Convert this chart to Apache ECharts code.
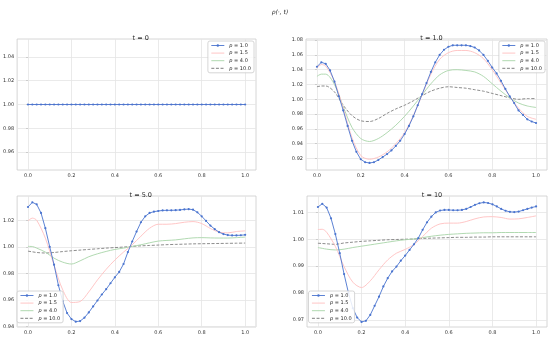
<!DOCTYPE html>
<html><head><meta charset="utf-8">
<script src="https://cdn.jsdelivr.net/npm/echarts@6/dist/echarts.min.js"></script>
<style>html,body{margin:0;padding:0;background:#fff}#c{width:550px;height:338px}</style>
</head><body><div id="c"></div><script>
// ---- data ----
const xFine = [0,0.02,0.04,0.06,0.08,0.10,0.12,0.14,0.16,0.18,0.20,0.22,0.24,0.26,0.28,0.30,0.32,0.34,0.36,0.38,0.40,0.42,0.44,0.46,0.48,0.50,0.52,0.54,0.56,0.58,0.60,0.62,0.64,0.66,0.68,0.70,0.72,0.74,0.76,0.78,0.80,0.82,0.84,0.86,0.88,0.90,0.92,0.94,0.96,0.98,1.00];
const xCoarse = [0,0.02,0.04,0.08,0.12,0.16,0.20,0.24,0.28,0.32,0.36,0.40,0.44,0.48,0.52,0.56,0.60,0.64,0.68,0.72,0.76,0.80,0.84,0.88,0.92,0.96,1.00];
const seriesNames = ['p = 1.0','p = 1.5','p = 4.0','p = 10.0'];
const panelTitles = ['t = 0','t = 1.0','t = 5.0','t = 10'];
const xTicks = [0,0.2,0.4,0.6,0.8,1.0];
const yTicks0 = [0.96,0.98,1.00,1.02,1.04];
const yTicks1 = [0.92,0.94,0.96,0.98,1.00,1.02,1.04,1.06,1.08];
const yTicks2 = [0.94,0.96,0.98,1.00,1.02];
const yTicks3 = [0.97,0.98,0.99,1.00,1.01];

// t = 0
const t0_p1 = [1,1,1,1,1,1,1,1,1,1,1,1,1,1,1,1,1,1,1,1,1,1,1,1,1,1,1,1,1,1,1,1,1,1,1,1,1,1,1,1,1,1,1,1,1,1,1,1,1,1,1];
const t0_p15 = [1,1,1,1,1,1,1,1,1,1,1,1,1,1,1,1,1,1,1,1,1,1,1,1,1,1,1];
const t0_p4 = [1,1,1,1,1,1,1,1,1,1,1,1,1,1,1,1,1,1,1,1,1,1,1,1,1,1,1];
const t0_p10 = [1,1,1,1,1,1,1,1,1,1,1,1,1,1,1,1,1,1,1,1,1,1,1,1,1,1,1];

// t = 1.0
const t1_p1 = [1.044,1.050,1.048,1.039,1.024,1.004,0.985,0.964,0.944,0.929,0.919,0.915,0.914,0.915,0.918,0.922,0.926,0.931,0.937,0.944,0.953,0.964,0.977,0.992,1.007,1.022,1.037,1.050,1.060,1.067,1.071,1.073,1.073,1.073,1.073,1.072,1.070,1.066,1.060,1.052,1.043,1.035,1.025,1.014,1.004,0.995,0.985,0.979,0.973,0.970,0.968];
const t1_p15 = [1.042,1.047,1.045,1.024,0.988,0.948,0.924,0.919,0.922,0.929,0.940,0.955,0.978,1.006,1.034,1.054,1.063,1.066,1.066,1.063,1.055,1.040,1.022,1.004,0.988,0.977,0.973];
const t1_p4 = [1.031,1.034,1.034,1.020,0.990,0.962,0.947,0.943,0.947,0.955,0.965,0.977,0.991,1.006,1.021,1.033,1.039,1.040,1.039,1.037,1.031,1.021,1.011,1.002,0.995,0.991,0.989];
const t1_p10 = [1.017,1.018,1.018,1.010,0.992,0.978,0.971,0.970,0.974,0.981,0.987,0.992,0.998,1.005,1.011,1.015,1.017,1.016,1.015,1.013,1.011,1.008,1.005,1.002,1.000,1.001,1.001];

// t = 5.0
const t5_p1 = [1.030,1.0335,1.032,1.0255,1.014,1.000,0.9865,0.971,0.959,0.950,0.9455,0.9435,0.944,0.9465,0.9505,0.955,0.9595,0.964,0.968,0.9725,0.977,0.981,0.987,0.996,1.004,1.0115,1.0185,1.023,1.0255,1.0265,1.027,1.0274,1.0275,1.0275,1.0276,1.0278,1.0282,1.0284,1.028,1.026,1.023,1.0195,1.016,1.0133,1.011,1.0096,1.0088,1.0086,1.0086,1.0087,1.009];
const t5_p15 = [1.0196,1.0216,1.020,1.0065,0.986,0.9675,0.958,0.9587,0.966,0.975,0.983,0.990,0.996,1.0015,1.008,1.014,1.017,1.017,1.0175,1.0185,1.019,1.0175,1.0138,1.011,1.0105,1.0115,1.012];
const t5_p4 = [1.0003,1.0002,0.999,0.996,0.9914,0.9884,0.987,0.9894,0.9925,0.9947,0.9965,0.998,0.999,1.0003,1.0015,1.003,1.0043,1.0048,1.0052,1.006,1.0067,1.0069,1.0067,1.0066,1.0066,1.0069,1.0073];
const t5_p10 = [0.9967,0.9962,0.9957,0.9953,0.9957,0.9964,0.997,0.9975,0.998,0.9985,0.999,0.9994,0.9998,1.0003,1.0007,1.001,1.0013,1.0016,1.0018,1.002,1.0022,1.0023,1.0024,1.0025,1.0026,1.0027,1.0028];

// t = 10
const t10_p1 = [1.0120,1.0132,1.0118,1.0078,1.0019,0.9948,0.9870,0.9800,0.9743,0.9708,0.9692,0.9696,0.9718,0.9752,0.9786,0.9824,0.9855,0.9880,0.9898,0.9920,0.9939,0.9960,0.9981,1.0004,1.0035,1.0063,1.0084,1.0100,1.0107,1.0109,1.0109,1.0108,1.0108,1.0109,1.0113,1.0120,1.0128,1.0134,1.0137,1.0135,1.0130,1.0122,1.0113,1.0106,1.0102,1.0101,1.0103,1.0108,1.0113,1.0118,1.0122];
const t10_p15 = [1.0036,1.0037,1.0026,0.9973,0.9898,0.9840,0.9820,0.9845,0.9886,0.9923,0.9948,0.9962,0.9980,1.0010,1.0041,1.0057,1.0060,1.0060,1.0066,1.0076,1.0083,1.0084,1.0081,1.0075,1.0076,1.0081,1.0087];
const t10_p4 = [0.9969,0.9966,0.9963,0.9960,0.9963,0.9969,0.9974,0.9979,0.9984,0.9989,0.9994,0.9998,1.0001,1.0006,1.0011,1.0015,1.0018,1.0020,1.0022,1.0023,1.0024,1.0024,1.0025,1.0025,1.0025,1.0025,1.0025];
const t10_p10 = [0.9985,0.9984,0.9983,0.9981,0.9986,0.9989,0.9992,0.9994,0.9996,0.9998,0.9999,1.0000,1.0001,1.0003,1.0004,1.0005,1.0006,1.0007,1.0007,1.0008,1.0008,1.0009,1.0009,1.0009,1.0009,1.0009,1.0009];

const panels = [
  {p1:t0_p1,p15:t0_p15,p4:t0_p4,p10:t0_p10,ticks:yTicks0,min:0.945,max:1.055,dec:2},
  {p1:t1_p1,p15:t1_p15,p4:t1_p4,p10:t1_p10,ticks:yTicks1,min:0.9045,max:1.0815,dec:2},
  {p1:t5_p1,p15:t5_p15,p4:t5_p4,p10:t5_p10,ticks:yTicks2,min:0.9395,max:1.0383,dec:2},
  {p1:t10_p1,p15:t10_p15,p4:t10_p4,p10:t10_p10,ticks:yTicks3,min:0.9673,max:1.0161,dec:2}
];

// ---- layout ----
const grids = [
  {left:15.5,top:39,width:240.5,height:131},
  {left:306,top:39,width:241,height:131},
  {left:15.5,top:196,width:240.5,height:131},
  {left:307,top:196,width:240,height:131}
];
const colors = ['#4a74cf','#ffbfbf','#a8d5a8','#707070'];
const tickColor = '#333333';
const font = 'DejaVu Sans';

const legendData = seriesNames.map((n,k)=> k===0 ? {name:n} : {name:n,itemStyle:{opacity:0}});

const option = {
  animation:false,
  backgroundColor:'#ffffff',
  textStyle:{fontFamily:font},
  title:[{text:'ρ(·, t)',left:275,top:4,textAlign:'center',textStyle:{fontSize:6,fontStyle:'italic',fontWeight:'normal',color:'#262626',fontFamily:font}}]
    .concat(panelTitles.map((t,i)=>({text:t,left:grids[i].left+grids[i].width/2,top:grids[i].top-9,textAlign:'center',
      textStyle:{fontSize:6.5,fontWeight:'normal',color:'#262626',fontFamily:font}}))),
  grid:grids.map(g=>Object.assign({show:true,borderColor:'#cccccc',borderWidth:0.8,backgroundColor:'#fff',containLabel:false},g)),
  xAxis:grids.map((g,i)=>({type:'value',gridIndex:i,min:-0.05,max:1.05,
    axisLine:{show:false},
    axisTick:{show:false,customValues:xTicks},
    axisLabel:{customValues:xTicks,fontSize:5,color:tickColor,margin:3,fontFamily:font,formatter:v=>v.toFixed(1)},
    splitLine:{show:true,lineStyle:{color:'#e4e4e4',width:0.8}}})),
  yAxis:panels.map((p,i)=>({type:'value',gridIndex:i,min:p.min,max:p.max,
    axisLine:{show:false},
    axisTick:{show:true,length:2,lineStyle:{color:'#cccccc'},customValues:p.ticks},
    axisLabel:{customValues:p.ticks,fontSize:5,color:tickColor,margin:3,fontFamily:font,formatter:v=>v.toFixed(p.dec)},
    splitLine:{show:true,lineStyle:{color:'#e4e4e4',width:0.8}}})),
  legend:[0,1,2,3].map(i=>{
    const g = grids[i];
    const pos = i<2 ? {right:550-(g.left+g.width)+2,top:g.top+2} : {left:g.left+1.5,top:g.top+g.height-36};
    return Object.assign({data:legendData,orient:'vertical',itemWidth:13,itemHeight:3,itemGap:2.6,
      padding:[2,3,2,3],backgroundColor:'rgba(255,255,255,0.85)',borderColor:'#cccccc',borderWidth:0.8,borderRadius:2,
      selectedMode:false,
      lineStyle:{width:0.9},
      textStyle:{fontSize:5,color:'#262626',fontFamily:font,rich:{i:{fontStyle:'italic',fontSize:5,fontFamily:font,color:'#262626'}}},
      formatter:n=>'{i|p}'+n.slice(1)},pos);
  }),
  series:[]
};

panels.forEach((p,i)=>{
  const mk = (name,xs,ys,extra)=>Object.assign({name,type:'line',xAxisIndex:i,yAxisIndex:i,
    data:xs.map((x,k)=>[x,ys[k]]),animation:false},extra);
  option.series.push(mk(seriesNames[3],xCoarse,p.p10,{smooth:0.3,symbol:'none',z:2,
    lineStyle:{color:colors[3],width:0.8,type:[3,1.6]},itemStyle:{color:colors[3]}}));
  option.series.push(mk(seriesNames[2],xCoarse,p.p4,{smooth:0.3,symbol:'none',z:2,
    lineStyle:{color:colors[2],width:0.9},itemStyle:{color:colors[2]}}));
  option.series.push(mk(seriesNames[1],xCoarse,p.p15,{smooth:0.3,symbol:'none',z:2,
    lineStyle:{color:colors[1],width:0.9},itemStyle:{color:colors[1]}}));
  option.series.push(mk(seriesNames[0],xFine,p.p1,{symbol:'circle',symbolSize:2.2,showSymbol:true,z:3,
    lineStyle:{color:colors[0],width:0.9},itemStyle:{color:colors[0]}}));
});

const chart = echarts.init(document.getElementById('c'),null,{renderer:'canvas'});
chart.setOption(option);
</script></body></html>
